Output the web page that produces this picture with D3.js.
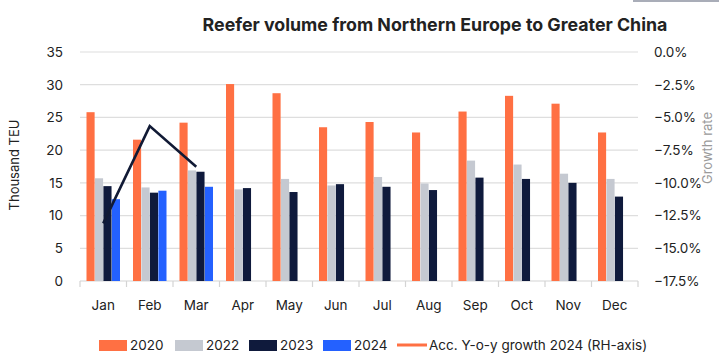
<!DOCTYPE html>
<head>
    <meta charset="utf-8">
    <script src="https://d3js.org/d3.v7.min.js"></script>
    <style>
        body { margin: 0; background: #fff; }
        text { font-family: Inter, "Open Sans", sans-serif; fill: #222; }
    </style>
</head>
<body>
    <div id="chart"></div>
    <script>
        // data
        var months = ["Jan", "Feb", "Mar", "Apr", "May", "Jun", "Jul", "Aug", "Sep", "Oct", "Nov", "Dec"]
        var years = ["2020", "2022", "2023", "2024"]
        var v2020 = [25.8, 21.6, 24.2, 30.1, 28.7, 23.5, 24.3, 22.7, 25.9, 28.3, 27.1, 22.7]
        var v2022 = [15.7, 14.3, 16.9, 14.0, 15.6, 14.6, 15.9, 14.9, 18.4, 17.8, 16.4, 15.6]
        var v2023 = [14.5, 13.5, 16.7, 14.2, 13.6, 14.8, 14.4, 13.9, 15.8, 15.6, 15.0, 12.9]
        var v2024 = [12.5, 13.8, 14.4]
        var growth2024 = [-13.1, -5.66, -8.77]
        var leftTicks = [0, 5, 10, 15, 20, 25, 30, 35]
        var rightTicks = [0, -2.5, -5, -7.5, -10, -12.5, -15, -17.5]

        var colors = {"2020": "#ff7043", "2022": "#c5c9d1", "2023": "#0f1a3c", "2024": "#2461ff"}
        var lineColor = "#111a35"

        var width = 722, height = 361
        var margin = {top: 52, right: 84, bottom: 80, left: 80}

        var svg = d3.select("#chart").append("svg")
            .attr("width", width)
            .attr("height", height)

        var x = d3.scaleBand().domain(months).range([margin.left, width - margin.right])
        var xi = d3.scaleBand().domain(years).range([6.5, x.bandwidth() - 6.5]).paddingInner(0.04)
        var y = d3.scaleLinear().domain([0, 35]).range([height - margin.bottom, margin.top])
        var y2 = d3.scaleLinear().domain([-17.5, 0]).range([height - margin.bottom, margin.top])

        // grid
        svg.append("g").selectAll("line").data(leftTicks.slice(1)).join("line")
            .attr("x1", margin.left).attr("x2", width - margin.right)
            .attr("y1", d => y(d)).attr("y2", d => y(d))
            .attr("stroke", "#dedede").attr("stroke-width", 1.2)

        // left axis
        var la = svg.append("g").attr("transform", "translate(" + margin.left + ",0)")
            .call(d3.axisLeft(y).tickValues(leftTicks).tickSize(0).tickPadding(17))
        la.select(".domain").remove()
        la.selectAll("text").style("font-size", "13.5px").attr("fill", "#222")

        // right axis
        var ra = svg.append("g").attr("transform", "translate(" + (width - margin.right) + ",0)")
            .call(d3.axisRight(y2).tickValues(rightTicks).tickSize(0).tickPadding(16)
                .tickFormat(d => (d === 0 ? "0.0" : d3.format(".1f")(d).replace("-", "\u2212")) + "%"))
        ra.select(".domain").remove()
        ra.selectAll("text").style("font-size", "13.5px").attr("fill", "#222")

        // bottom axis
        var ba = svg.append("g").attr("transform", "translate(0," + y(0) + ")")
        ba.append("line").attr("x1", margin.left).attr("x2", width - margin.right)
            .attr("stroke", "#d4d4d4").attr("stroke-width", 1.2)
        ba.selectAll(".tk").data(months.concat(["end"])).join("line")
            .attr("x1", d => d === "end" ? width - margin.right : x(d))
            .attr("x2", d => d === "end" ? width - margin.right : x(d))
            .attr("y1", 0).attr("y2", 6)
            .attr("stroke", "#d4d4d4").attr("stroke-width", 1.2)
        ba.selectAll("text").data(months).join("text")
            .attr("x", d => x(d) + x.bandwidth() / 2)
            .attr("y", 29)
            .attr("text-anchor", "middle")
            .style("font-size", "13.5px")
            .text(d => d)

        // bars
        var series = {"2020": v2020, "2022": v2022, "2023": v2023, "2024": v2024}
        years.forEach(function(yr) {
            svg.append("g").selectAll("rect").data(series[yr]).join("rect")
                .attr("x", (d, i) => x(months[i]) + xi(yr))
                .attr("width", xi.bandwidth())
                .attr("y", d => y(d))
                .attr("height", d => y(0) - y(d))
                .attr("fill", colors[yr])
        })

        // growth line
        var line = d3.line()
            .x((d, i) => x(months[i]) + x.bandwidth() / 2)
            .y(d => y2(d))
        svg.append("path").datum(growth2024)
            .attr("d", line)
            .attr("fill", "none")
            .attr("stroke", lineColor)
            .attr("stroke-width", 2.6)

        // title
        svg.append("text")
            .attr("x", 435).attr("y", 31)
            .attr("text-anchor", "middle")
            .style("font-size", "17.8px").style("font-weight", "bold")
            .attr("fill", "#111")
            .text("Reefer volume from Northern Europe to Greater China")

        // axis titles
        svg.append("text")
            .attr("transform", "translate(19,165) rotate(-90)")
            .attr("text-anchor", "middle")
            .style("font-size", "13px")
            .text("Thousand TEU")
        svg.append("text")
            .attr("transform", "translate(712,148) rotate(-90)")
            .attr("text-anchor", "middle")
            .style("font-size", "13px")
            .style("fill", "#9a9a9a")
            .text("Growth rate")

        // top right decoration line
        svg.append("line").attr("x1", 633).attr("x2", 719).attr("y1", 1).attr("y2", 1)
            .attr("stroke", "#a9adb8").attr("stroke-width", 2)

        // legend
        var legendItems = [
            {label: "2020", color: colors["2020"], x: 99, type: "rect"},
            {label: "2022", color: colors["2022"], x: 175, type: "rect"},
            {label: "2023", color: colors["2023"], x: 249, type: "rect"},
            {label: "2024", color: colors["2024"], x: 323, type: "rect"},
            {label: "Acc. Y-o-y growth 2024 (RH-axis)", color: colors["2020"], x: 397, type: "line"}
        ]
        var lg = svg.append("g").selectAll("g").data(legendItems).join("g")
            .attr("transform", d => "translate(" + d.x + ",345)")
        lg.filter(d => d.type === "rect").append("rect")
            .attr("x", 0).attr("y", -5).attr("width", 28).attr("height", 11)
            .attr("fill", d => d.color)
        lg.filter(d => d.type === "line").append("line")
            .attr("x1", 0).attr("x2", 30).attr("y1", 0).attr("y2", 0)
            .attr("stroke", d => d.color).attr("stroke-width", 3)
        lg.append("text")
            .attr("x", d => d.type === "line" ? 32 : 31)
            .attr("y", 5)
            .style("font-size", "13.5px")
            .text(d => d.label)
    </script>
</body>
</html>
